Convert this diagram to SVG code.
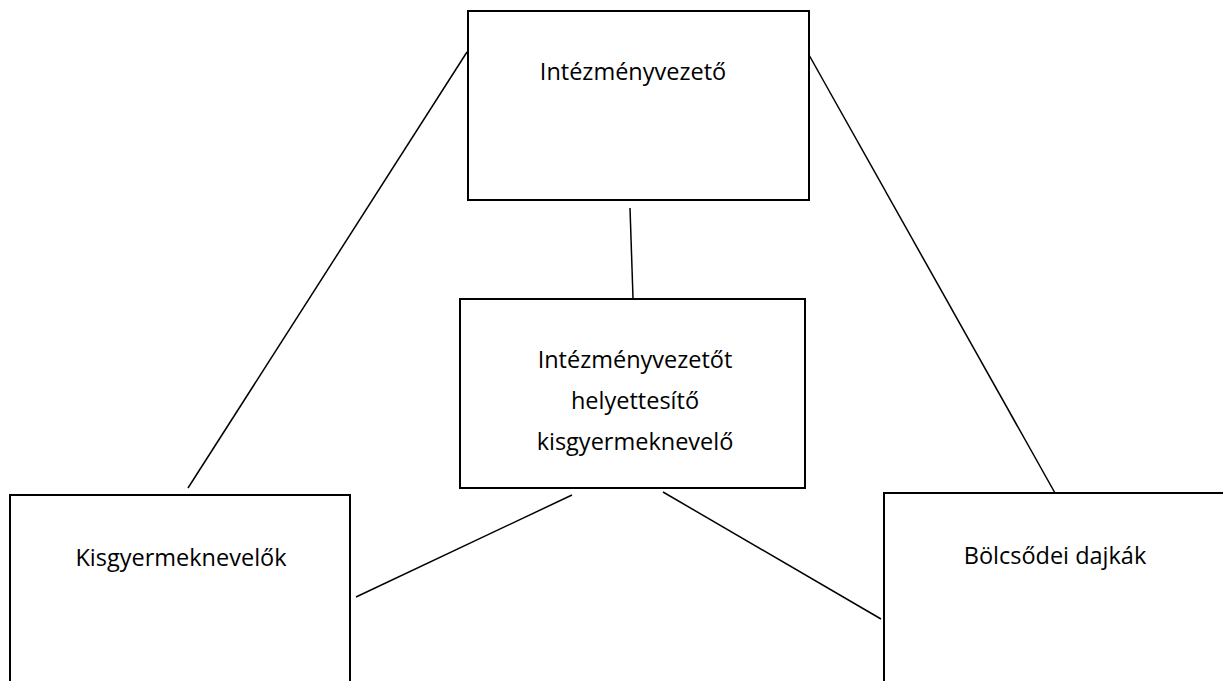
<svg xmlns="http://www.w3.org/2000/svg" width="1223" height="681" viewBox="0 0 1223 681">
<style>
.box{fill:#fff;stroke:#000;stroke-width:2}
.ln{stroke:#000;stroke-width:1.5;fill:none}
.t{font-family:"Open Sans","Liberation Sans",sans-serif;font-size:23.5px;fill:#000;text-anchor:middle}
</style>
<rect width="1223" height="681" fill="#fff"/>
<g id="connectors">
<line class="ln" x1="467" y1="52" x2="188" y2="488"/>
<line class="ln" x1="809" y1="55" x2="1055" y2="493"/>
<line class="ln" x1="630" y1="208" x2="633" y2="298"/>
<line class="ln" x1="572" y1="495" x2="356" y2="597"/>
<line class="ln" x1="663" y1="492" x2="881" y2="619"/>
</g>
<g id="intezmenyvezeto">
<rect class="box" x="468" y="11" width="341" height="189"/>
<text class="t" x="633" y="80">Intézményvezető</text>
</g>
<g id="helyettes">
<rect class="box" x="460" y="299" width="345" height="189"/>
<text class="t" x="635" y="368">Intézményvezetőt</text>
<text class="t" x="635" y="409">helyettesítő</text>
<text class="t" x="635" y="450">kisgyermeknevelő</text>
</g>
<g id="kisgyermeknevelok">
<rect class="box" x="10" y="495" width="340" height="200"/>
<text class="t" x="181" y="566">Kisgyermeknevelők</text>
</g>
<g id="bolcsodei">
<rect class="box" x="884" y="493" width="350" height="200"/>
<text class="t" x="1055" y="564">Bölcsődei dajkák</text>
</g>
</svg>
